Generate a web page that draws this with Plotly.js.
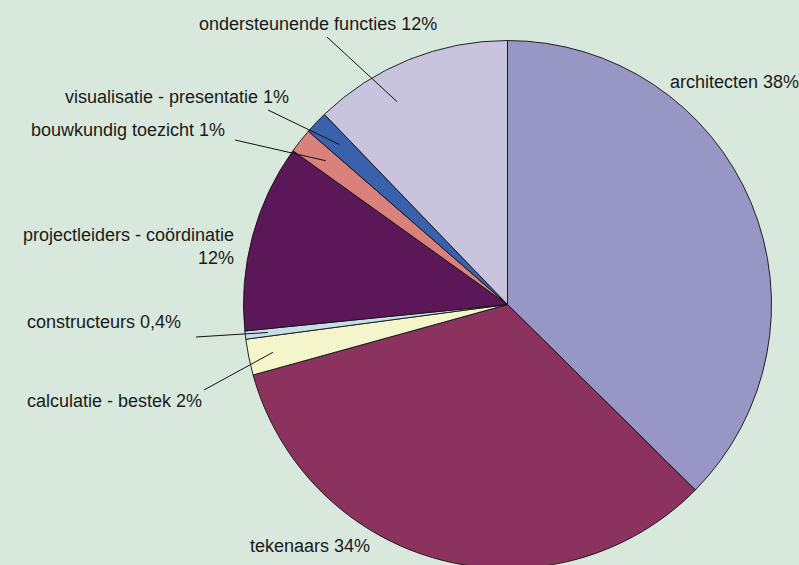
<!DOCTYPE html>
<html>
<head>
<meta charset="utf-8">
<script src="https://cdn.plot.ly/plotly-3.0.1.min.js"></script>
<style>
html,body{margin:0;padding:0;overflow:hidden;background:#d8e8dc;}
#chart{width:799px;height:575px;}
</style>
</head>
<body>
<div id="chart"></div>
<script>
// ---- data ----
const categories = [
  "architecten",
  "tekenaars",
  "calculatie - bestek",
  "constructeurs",
  "projectleiders - coördinatie",
  "bouwkundig toezicht",
  "visualisatie - presentatie",
  "ondersteunende functies"
];
const values = [37.4, 33.3, 2.2, 0.5, 11.5, 1.5, 1.4, 12.2];
const pctLabels = ["38%", "34%", "2%", "0,4%", "12%", "1%", "1%", "12%"];

// ---- style ----
const colors = ["#9896c4", "#8b325e", "#f5f5cc", "#c5dfe8", "#5c1759", "#d9817a", "#3a62ac", "#c8c4de"];
const W = 799, H = 575;
const cx = 507.5, cy = 304.5, R = 264;
// label placement (pixels): x, y, xanchor, line start (lx,ly) or null, tip fraction along slice, tip radius fraction
const labelPos = [
  {x: 668, y: 82, xa: "left"},
  {x: 248, y: 546, xa: "left"},
  {x: 25, y: 401, xa: "left", lx: 204, ly: 390, af: 0.5, rf: 0.907},
  {x: 25, y: 322, xa: "left", lx: 196, ly: 337, af: 0.5, rf: 0.914},
  {x: 236, y: 246.5, xa: "right", br: true},
  {x: 227, y: 130, xa: "right", lx: 235, ly: 140, af: 0.5, rf: 0.878},
  {x: 291, y: 97, xa: "right", lx: 268, ly: 110, af: 0.5, rf: 0.88},
  {x: 318, y: 24, xa: "center", lx: 327, ly: 37, af: 0.35, rf: 0.874}
];

const px = x => x / W;
const py = y => 1 - y / H;

const total = values.reduce((a, b) => a + b, 0);
const annotations = [];
const shapes = [];
let cum = 0;
values.forEach((v, i) => {
  const p = labelPos[i];
  const txt = p.br ? categories[i] + "<br>" + pctLabels[i] : categories[i] + " " + pctLabels[i];
  annotations.push({
    xref: "paper", yref: "paper", x: px(p.x), y: py(p.y),
    xanchor: p.xa, yanchor: "middle", align: p.xa === "right" ? "right" : "left",
    text: txt, showarrow: false,
    font: {family: "Liberation Sans, Arial, sans-serif", size: 18, color: "#1a1a1a"}
  });
  if (p.lx !== undefined) {
    const ang = (cum + v * p.af) / total * 2 * Math.PI;
    const tx = cx + p.rf * R * Math.sin(ang);
    const ty = cy - p.rf * R * Math.cos(ang);
    shapes.push({
      type: "line", xref: "paper", yref: "paper",
      x0: px(p.lx), y0: py(p.ly), x1: px(tx), y1: py(ty),
      line: {color: "#111", width: 1}
    });
  }
  cum += v;
});

const trace = {
  type: "pie",
  labels: categories,
  values: values,
  sort: false,
  direction: "clockwise",
  rotation: 0,
  textinfo: "none",
  hoverinfo: "none",
  marker: {colors: colors, line: {color: "#111", width: 0.9}},
  domain: {x: [px(cx - R), px(cx + R)], y: [py(cy + R), py(cy - R)]},
  showlegend: false
};

const layout = {
  width: W, height: H,
  margin: {l: 0, r: 0, t: 0, b: 0},
  paper_bgcolor: "#d8e8dc",
  plot_bgcolor: "#d8e8dc",
  showlegend: false,
  annotations: annotations,
  shapes: shapes
};

Plotly.newPlot("chart", [trace], layout, {staticPlot: true, displayModeBar: false});
</script>
</body>
</html>
